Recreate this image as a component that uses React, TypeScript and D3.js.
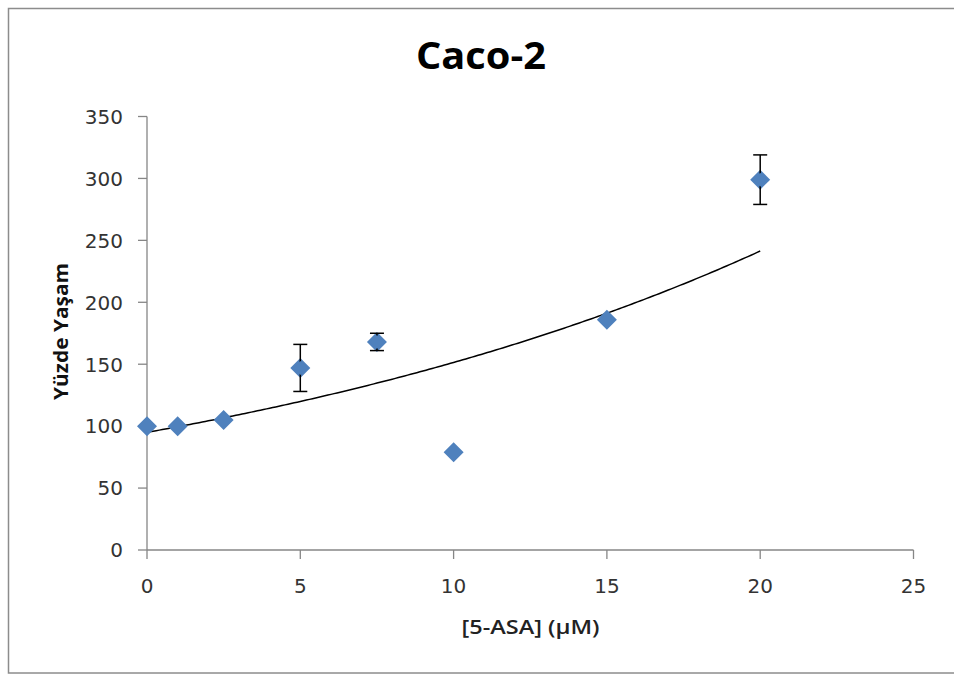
import React from "react";
import * as d3 from "d3";

const concentrations = [0, 1, 2.5, 5, 7.5, 10, 15, 20];
const survival = [100, 100, 105, 147, 168, 79, 186, 299];
const errors = [0, 0, 0, 19, 7, 0, 0, 20];
const xTicks = [0, 5, 10, 15, 20, 25];
const yTicks = [0, 50, 100, 150, 200, 250, 300, 350];
const title = "Caco-2";
const xLabel = "[5-ASA] (µM)";
const yLabel = "Yüzde Yaşam";

const W = 954;
const H = 675;

export default function App() {
  const x = d3.scaleLinear().domain([0, 25]).range([147, 913.5]);
  const y = d3.scaleLinear().domain([0, 350]).range([550, 116.5]);

  // exponential trendline fit (least squares on ln y)
  const n = concentrations.length;
  const mx = d3.mean(concentrations) as number;
  const ly = survival.map((v) => Math.log(v));
  const my = d3.mean(ly) as number;
  let sxy = 0,
    sxx = 0;
  for (let i = 0; i < n; i++) {
    sxy += (concentrations[i] - mx) * (ly[i] - my);
    sxx += (concentrations[i] - mx) ** 2;
  }
  const b = sxy / sxx;
  const a = Math.exp(my - b * mx);
  const xmax = d3.max(concentrations) as number;
  const trendPts = d3.range(0, 201).map((i) => {
    const xv = (i / 200) * xmax;
    return [xv, a * Math.exp(b * xv)] as [number, number];
  });
  const line = d3
    .line<[number, number]>()
    .x((d) => x(d[0]))
    .y((d) => y(d[1]));

  const axisColor = "#868686";
  const blue = "#4F81BD";
  const dm = 10;

  return (
    <svg
      width={W}
      height={H}
      style={{ position: "absolute", left: 0, top: 0, display: "block" }}
    >
      <rect x={0} y={0} width={W} height={H} fill="#fff" />
      <rect
        x={8.5}
        y={8.5}
        width={1000}
        height={664.5}
        fill="none"
        stroke="#8c8c8c"
        strokeWidth={1.5}
      />
      <text
        x={481}
        y={68.5}
        textAnchor="middle"
        fontFamily="'Open Sans', sans-serif"
        fontWeight="bold"
        fontSize={37}
        textLength={130}
        lengthAdjust="spacingAndGlyphs"
        fill="#000"
      >
        {title}
      </text>

      {/* axes */}
      <line x1={x(0)} x2={x(0)} y1={y(350)} y2={y(0)} stroke={axisColor} strokeWidth={1.3} />
      <line x1={x(0)} x2={x(25)} y1={y(0)} y2={y(0)} stroke={axisColor} strokeWidth={1.3} />
      {yTicks.map((t) => (
        <g key={"y" + t}>
          <line x1={x(0) - 9} x2={x(0)} y1={y(t)} y2={y(t)} stroke={axisColor} strokeWidth={1.3} />
          <text
            x={123}
            y={y(t) + 7.3}
            textAnchor="end"
            fontFamily="'DejaVu Sans', sans-serif"
            fontSize={20}
            fill="#333"
          >
            {t}
          </text>
        </g>
      ))}
      {xTicks.map((t) => (
        <g key={"x" + t}>
          <line x1={x(t)} x2={x(t)} y1={y(0)} y2={y(0) + 9} stroke={axisColor} strokeWidth={1.3} />
          <text
            x={x(t)}
            y={593}
            textAnchor="middle"
            fontFamily="'DejaVu Sans', sans-serif"
            fontSize={20}
            fill="#333"
          >
            {t}
          </text>
        </g>
      ))}

      <text
        x={530.5}
        y={634}
        textAnchor="middle"
        fontFamily="'Open Sans', sans-serif"
        fontWeight="600"
        fontSize={19}
        textLength={138}
        lengthAdjust="spacingAndGlyphs"
        fill="#222"
      >
        {xLabel}
      </text>
      <text
        transform={`translate(67.5,331.5) rotate(-90)`}
        textAnchor="middle"
        fontFamily="'Open Sans', sans-serif"
        fontWeight="bold"
        fontSize={19}
        textLength={137}
        lengthAdjust="spacingAndGlyphs"
        fill="#111"
      >
        {yLabel}
      </text>

      {/* trendline */}
      <path d={line(trendPts) || ""} fill="none" stroke="#000" strokeWidth={1.5} />

      {/* markers */}
      {concentrations.map((c, i) => {
        const cx = x(c);
        const cy = y(survival[i]);
        return (
          <path
            key={"m" + i}
            d={`M${cx},${cy - dm}L${cx + dm},${cy}L${cx},${cy + dm}L${cx - dm},${cy}Z`}
            fill={blue}
          />
        );
      })}

      {/* error bars */}
      {concentrations.map((c, i) => {
        if (!errors[i]) return null;
        const cx = x(c);
        const top = y(survival[i] + errors[i]);
        const bot = y(survival[i] - errors[i]);
        return (
          <g key={"e" + i} stroke="#000" strokeWidth={1.5}>
            <line x1={cx} x2={cx} y1={top} y2={bot} />
            <line x1={cx - 7} x2={cx + 7} y1={top} y2={top} />
            <line x1={cx - 7} x2={cx + 7} y1={bot} y2={bot} />
          </g>
        );
      })}
      {/* redraw marker centers over bars */}
      {concentrations.map((c, i) => {
        if (!errors[i]) return null;
        const cx = x(c);
        const cy = y(survival[i]);
        const s = dm - 3;
        return (
          <path
            key={"mc" + i}
            d={`M${cx},${cy - s}L${cx + s},${cy}L${cx},${cy + s}L${cx - s},${cy}Z`}
            fill={blue}
          />
        );
      })}
    </svg>
  );
}
